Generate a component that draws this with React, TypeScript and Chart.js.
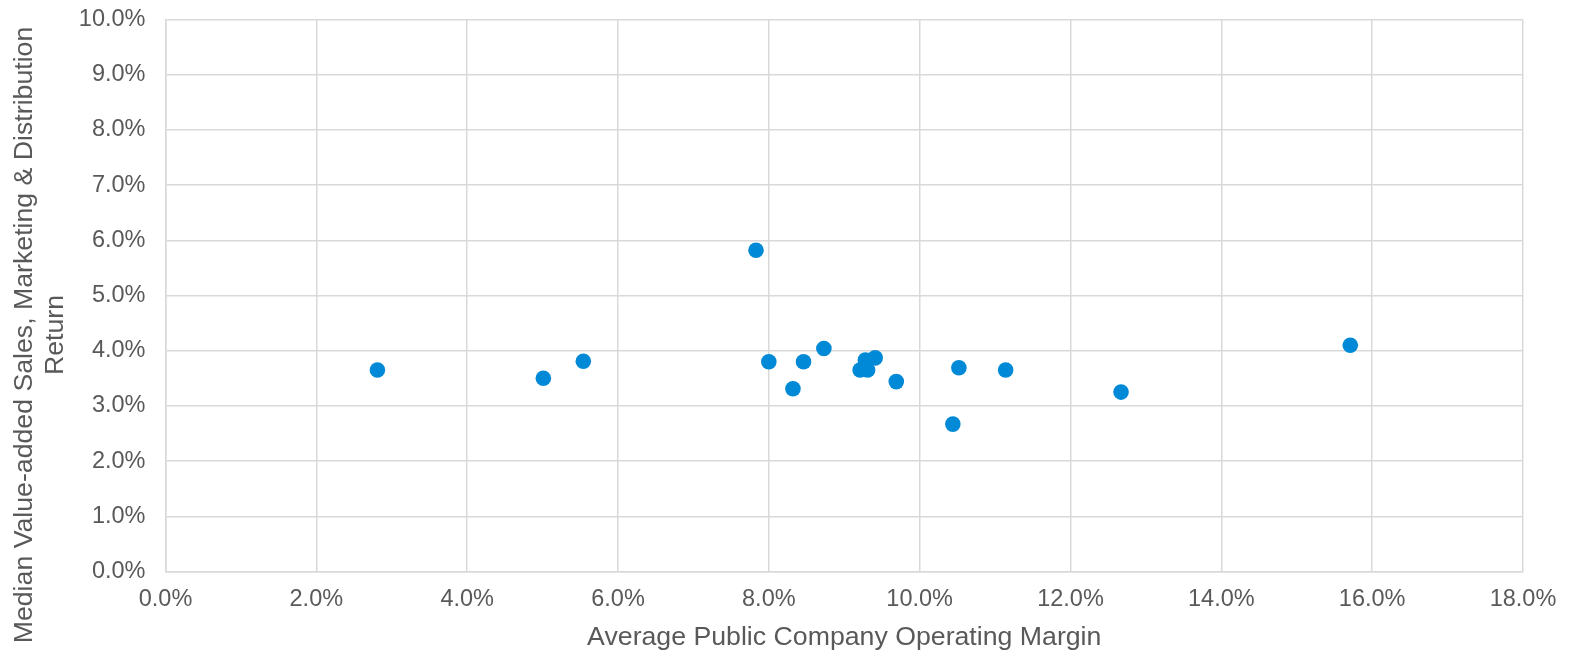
import React, { useEffect, useRef } from "react";
import { Chart, registerables } from "chart.js";

Chart.register(...registerables);

// Average public company operating margin (%)
const operatingMargin = [2.81, 5.01, 5.54, 7.83, 8.0, 8.32, 8.46, 8.73, 9.21, 9.28, 9.31, 9.41, 9.69, 10.44, 10.52, 11.14, 12.67, 15.71];
// Median value-added sales, marketing & distribution return (%)
const medianReturn = [3.65, 3.5, 3.81, 5.82, 3.8, 3.31, 3.8, 4.04, 3.65, 3.83, 3.65, 3.87, 3.44, 2.67, 3.69, 3.65, 3.25, 4.1];

const xTitle = "Average Public Company Operating Margin";
const yTitle = ["Median Value-added Sales, Marketing & Distribution", "Return"];

const FONT = "'Liberation Sans', Arial, sans-serif";
const GRID = "#d9d9d9";
const TEXT = "#595959";
const TICK_SIZE = 23.5;
const TITLE_SIZE = 26.7;

const yTitlePlugin = {
  id: "yTitlePlugin",
  afterDraw(chart: any) {
    const { ctx, chartArea } = chart;
    ctx.save();
    ctx.fillStyle = TEXT;
    ctx.font = `${TITLE_SIZE}px ${FONT}`;
    ctx.textAlign = "center";
    ctx.textBaseline = "alphabetic";
    const cy = chartArea.bottom - 236.5;
    const baselines = [chartArea.left - 133.8, chartArea.left - 102.2];
    yTitle.forEach((line, i) => {
      ctx.save();
      ctx.translate(baselines[i], cy);
      ctx.rotate(-Math.PI / 2);
      ctx.fillText(line, 0, 0);
      ctx.restore();
    });
    ctx.restore();
  },
};

export default function App() {
  const ref = useRef<HTMLCanvasElement>(null);

  useEffect(() => {
    document.body.style.margin = "0";
    const canvas = ref.current!;
    const points = operatingMargin.map((x, i) => ({ x, y: medianReturn[i] }));
    const chart = new Chart(canvas, {
      type: "scatter",
      data: {
        datasets: [
          {
            data: points,
            backgroundColor: "#0089d6",
            borderWidth: 0,
            pointRadius: 7.8,
            pointHoverRadius: 7.8,
          },
        ],
      },
      plugins: [yTitlePlugin],
      options: {
        animation: false,
        responsive: false,
        maintainAspectRatio: false,
        layout: { padding: { top: 19.5, right: 48, bottom: 0, left: 0 } },
        plugins: { legend: { display: false }, tooltip: { enabled: false } },
        scales: {
          x: {
            type: "linear",
            min: 0,
            max: 18,
            afterFit: (s: any) => {
              s.height = 82.5;
              s.paddingLeft = 0;
              s.paddingRight = 0;
            },
            ticks: {
              stepSize: 2,
              padding: 14,
              color: TEXT,
              font: { family: FONT, size: TICK_SIZE },
              callback: (v: any) => Number(v).toFixed(1) + "%",
            },
            grid: { color: GRID, lineWidth: 1.5, drawTicks: false },
            border: { color: GRID, width: 1.5 },
            title: {
              display: true,
              text: xTitle,
              color: TEXT,
              font: { family: FONT, size: TITLE_SIZE, lineHeight: 1.2 },
              padding: { top: 0, bottom: 0 },
            },
          },
          y: {
            type: "linear",
            min: 0,
            max: 10,
            afterFit: (s: any) => {
              s.width = 165.5;
              s.paddingTop = 0;
              s.paddingBottom = 0;
            },
            ticks: {
              stepSize: 1,
              padding: 20,
              color: TEXT,
              font: { family: FONT, size: TICK_SIZE },
              callback: (v: any) => Number(v).toFixed(1) + "%",
            },
            grid: { color: GRID, lineWidth: 1.5, drawTicks: false },
            border: { color: GRID, width: 1.5 },
            title: { display: false },
          },
        },
      },
    });
    return () => chart.destroy();
  }, []);

  return (
    <div style={{ width: 1571, height: 654 }}>
      <canvas ref={ref} width={1571} height={654} style={{ display: "block", width: 1571, height: 654 }} />
    </div>
  );
}
